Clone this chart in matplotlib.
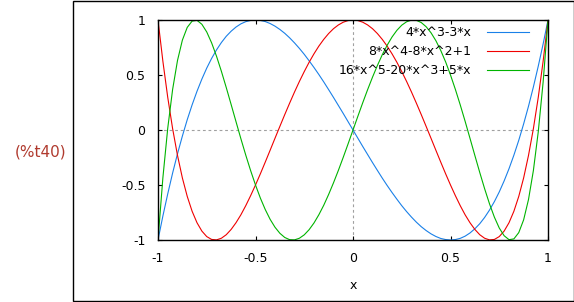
import matplotlib
matplotlib.use("Agg")
import matplotlib.pyplot as plt
from matplotlib.patches import Rectangle

x = [-1, -0.975, -0.95, -0.925, -0.9, -0.875, -0.85, -0.825, -0.8, -0.775,
     -0.75, -0.725, -0.7, -0.675, -0.65, -0.625, -0.6, -0.575, -0.55, -0.525,
     -0.5, -0.475, -0.45, -0.425, -0.4, -0.375, -0.35, -0.325, -0.3, -0.275,
     -0.25, -0.225, -0.2, -0.175, -0.15, -0.125, -0.1, -0.075, -0.05, -0.025,
     0, 0.025, 0.05, 0.075, 0.1, 0.125, 0.15, 0.175, 0.2, 0.225,
     0.25, 0.275, 0.3, 0.325, 0.35, 0.375, 0.4, 0.425, 0.45, 0.475,
     0.5, 0.525, 0.55, 0.575, 0.6, 0.625, 0.65, 0.675, 0.7, 0.725,
     0.75, 0.775, 0.8, 0.825, 0.85, 0.875, 0.9, 0.925, 0.95, 0.975, 1]

t3 = [-1, -0.782, -0.580, -0.391, -0.216, -0.055, 0.094, 0.229, 0.352, 0.463,
      0.563, 0.651, 0.728, 0.795, 0.852, 0.898, 0.936, 0.965, 0.985, 0.996,
      1, 0.996, 0.986, 0.968, 0.944, 0.914, 0.879, 0.838, 0.792, 0.742,
      0.688, 0.629, 0.568, 0.504, 0.437, 0.367, 0.296, 0.223, 0.150, 0.075,
      0, -0.075, -0.150, -0.223, -0.296, -0.367, -0.437, -0.504, -0.568, -0.629,
      -0.688, -0.742, -0.792, -0.838, -0.879, -0.914, -0.944, -0.968, -0.986, -0.996,
      -1, -0.996, -0.985, -0.965, -0.936, -0.898, -0.852, -0.795, -0.728, -0.651,
      -0.563, -0.463, -0.352, -0.229, -0.094, 0.055, 0.216, 0.391, 0.580, 0.782, 1]

t4 = [1, 0.625, 0.296, 0.012, -0.231, -0.436, -0.604, -0.739, -0.843, -0.919,
      -0.969, -0.995, -0.999, -0.984, -0.952, -0.904, -0.843, -0.771, -0.688, -0.597,
      -0.5, -0.398, -0.292, -0.184, -0.075, 0.033, 0.140, 0.244, 0.345, 0.441,
      0.531, 0.616, 0.693, 0.763, 0.824, 0.877, 0.921, 0.955, 0.980, 0.995,
      1, 0.995, 0.980, 0.955, 0.921, 0.877, 0.824, 0.763, 0.693, 0.616,
      0.531, 0.441, 0.345, 0.244, 0.140, 0.033, -0.075, -0.184, -0.292, -0.398,
      -0.5, -0.597, -0.688, -0.771, -0.843, -0.904, -0.952, -0.984, -0.999, -0.995,
      -0.969, -0.919, -0.843, -0.739, -0.604, -0.436, -0.231, 0.012, 0.296, 0.625, 1]

t5 = [-1, -0.435, 0.017, 0.369, 0.632, 0.817, 0.933, 0.990, 0.997, 0.961,
      0.891, 0.792, 0.671, 0.534, 0.386, 0.232, 0.076, -0.079, -0.228, -0.369,
      -0.5, -0.619, -0.723, -0.812, -0.884, -0.939, -0.977, -0.997, -0.999, -0.984,
      -0.953, -0.906, -0.845, -0.770, -0.684, -0.586, -0.480, -0.367, -0.248, -0.125,
      0, 0.125, 0.248, 0.367, 0.480, 0.586, 0.684, 0.770, 0.845, 0.906,
      0.953, 0.984, 0.999, 0.997, 0.977, 0.939, 0.884, 0.812, 0.723, 0.619,
      0.5, 0.369, 0.228, 0.079, -0.076, -0.232, -0.386, -0.534, -0.671, -0.792,
      -0.891, -0.961, -0.997, -0.990, -0.933, -0.817, -0.632, -0.369, -0.017, 0.435, 1]

labels = ["4*x^3-3*x", "8*x^4-8*x^2+1", "16*x^5-20*x^3+5*x"]
colors = ["#1a80e8", "#f00000", "#00b400"]
ticks = [-1, -0.5, 0, 0.5, 1]
tick_labels = ["-1", "-0.5", "0", "0.5", "1"]

plt.rcParams['font.family'] = ['DejaVu Sans']
W, H = 574, 302
fig = plt.figure(figsize=(W / 100, H / 100), dpi=100)
ax = fig.add_axes([158 / W, 1 - 240 / H, (548 - 158) / W, (240 - 20) / H])

for ys, lab, c in zip([t3, t4, t5], labels, colors):
    ax.plot(x, ys, color=c, lw=0.8, label=lab)

ax.axhline(0, color="#a0a0a0", lw=0.8, ls=(0, (2.5, 2.5)), zorder=0)
ax.axvline(0, color="#a0a0a0", lw=0.8, ls=(0, (2.5, 2.5)), zorder=0)

ax.set_xlim(-1, 1)
ax.set_ylim(-1, 1)
ax.set_xticks(ticks)
ax.set_xticklabels(tick_labels)
ax.set_yticks(ticks)
ax.set_yticklabels(tick_labels)
ax.tick_params(direction="in", length=3, width=0.8, top=True, right=True,
               labelsize=9, colors="black")
ax.tick_params(axis="y", pad=9)
ax.tick_params(axis="x", pad=9)
for s in ax.spines.values():
    s.set_linewidth(1.0)
ax.set_xlabel("x", fontsize=9, labelpad=10)

leg = ax.legend(loc="upper right", bbox_to_anchor=((529 - 158) / 390, (240 - 26) / 220),
                frameon=False, markerfirst=False, fontsize=9,
                handlelength=3.4, handletextpad=1.2, labelspacing=0.5,
                borderaxespad=0, borderpad=0)

fig.text(41 / W, 1 - 152 / H, "(%t40)", color="#b03a2e", fontsize=11,
         ha="center", va="center")

fig.add_artist(Rectangle((72.5 / W, 1.5 / H), (573.5 - 72.5) / W, (301.5 - 1.5) / H,
                         transform=fig.transFigure, fill=False, lw=1.0, ec="black"))

fig.savefig("out.png", dpi=100)
